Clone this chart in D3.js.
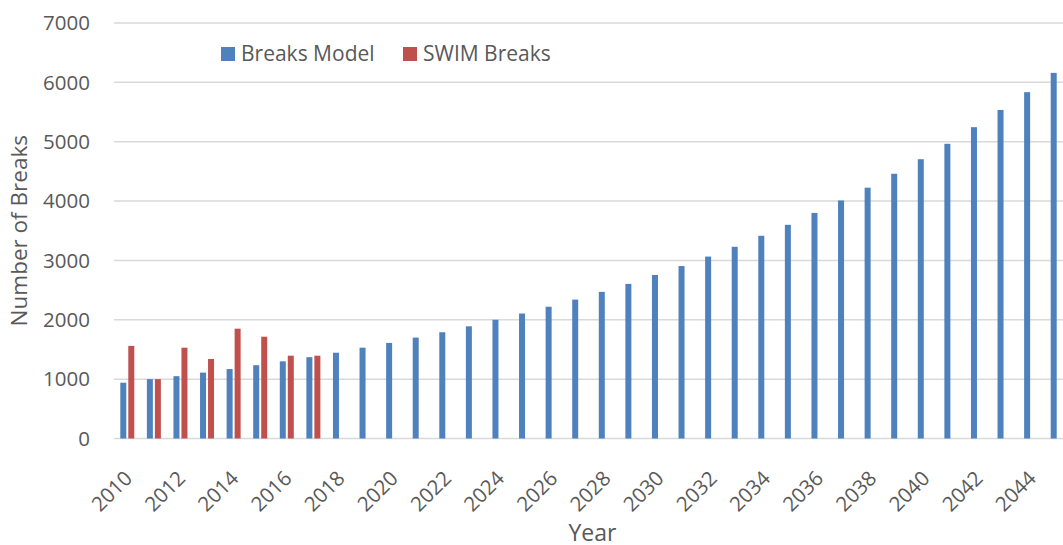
<!DOCTYPE html>
<html>
<head>
<meta charset="utf-8">
<script src="https://cdn.jsdelivr.net/npm/d3@7"></script>
<style>
  body { margin: 0; background: #fff; }
  svg { display: block; font-family: "Open Sans", sans-serif; }
</style>
</head>
<body>
<div id="chart"></div>
<script>
const width = 1063;
const height = 545;

// data
const years = d3.range(2010, 2046);
const breaksModel = [940, 1000, 1050, 1110, 1170, 1235, 1300, 1370, 1445, 1530,
  1610, 1700, 1790, 1890, 2000, 2105, 2220, 2340, 2470, 2605,
  2755, 2905, 3065, 3230, 3415, 3600, 3800, 4010, 4225, 4460,
  4705, 4965, 5245, 5535, 5835, 6160];
const swimYears = [2010, 2011, 2012, 2013, 2014, 2015, 2016, 2017];
const swimBreaks = [1560, 1000, 1530, 1340, 1850, 1715, 1395, 1395];
const yTicks = [0, 1000, 2000, 3000, 4000, 5000, 6000, 7000];
const seriesNames = ["Breaks Model", "SWIM Breaks"];
const colors = ["#4f81bd", "#c0504d"];

const plotLeft = 114, plotRight = 1071, plotTop = 23, plotBottom = 438.5;

const svg = d3.select("#chart").append("svg")
  .attr("width", width)
  .attr("height", height);

const x0 = d3.scaleBand(years, [plotLeft, plotRight]);
const x1 = d3.scaleBand(seriesNames, [x0.bandwidth() / 2 - 7, x0.bandwidth() / 2 + 7])
  .paddingInner(0.25);
const y = d3.scaleLinear([0, 7000], [plotBottom, plotTop]);

// gridlines
svg.append("g")
  .selectAll("line")
  .data(yTicks)
  .join("line")
  .attr("x1", plotLeft)
  .attr("x2", width)
  .attr("y1", d => y(d))
  .attr("y2", d => y(d))
  .attr("stroke", "#d9d9d9")
  .attr("stroke-width", 1.5);

// y tick labels
svg.append("g")
  .selectAll("text")
  .data(yTicks)
  .join("text")
  .attr("x", 90)
  .attr("y", d => y(d))
  .attr("dy", "0.35em")
  .attr("text-anchor", "end")
  .attr("fill", "#595959")
  .style("font-size", "20.5px")
  .text(d => d);

// bars
const rows = [
  years.map((yr, i) => ({ year: yr, value: breaksModel[i], s: 0 })),
  swimYears.map((yr, i) => ({ year: yr, value: swimBreaks[i], s: 1 }))
];

svg.append("g")
  .selectAll("g")
  .data(rows)
  .join("g")
  .attr("fill", (d, i) => colors[i])
  .selectAll("rect")
  .data(d => d)
  .join("rect")
  .attr("x", d => x0(d.year) + x1(seriesNames[d.s]))
  .attr("width", x1.bandwidth())
  .attr("y", d => y(d.value))
  .attr("height", d => y(0) - y(d.value));

// x tick labels, every other year
svg.append("g")
  .selectAll("text")
  .data(years.filter(yr => yr % 2 === 0))
  .join("text")
  .attr("transform", d => `translate(${x0(d) + x0.bandwidth() / 2 - 4},${plotBottom + 31}) rotate(-45)`)
  .attr("text-anchor", "end")
  .attr("dy", "0.7em")
  .attr("fill", "#595959")
  .style("font-size", "20.5px")
  .text(d => d);

// axis titles
svg.append("text")
  .attr("transform", `translate(27,${(plotTop + plotBottom) / 2}) rotate(-90)`)
  .attr("text-anchor", "middle")
  .attr("fill", "#595959")
  .style("font-size", "22.5px")
  .text("Number of Breaks");

svg.append("text")
  .attr("x", (plotLeft + plotRight) / 2)
  .attr("y", 541)
  .attr("text-anchor", "middle")
  .attr("fill", "#595959")
  .style("font-size", "23px")
  .text("Year");

// legend
const legend = svg.append("g")
  .selectAll("g")
  .data(seriesNames)
  .join("g")
  .attr("transform", (d, i) => `translate(${i === 0 ? 221 : 403},47)`);

legend.append("rect")
  .attr("width", 14)
  .attr("height", 14)
  .attr("fill", (d, i) => colors[i]);

legend.append("text")
  .attr("x", 20)
  .attr("y", 7)
  .attr("dy", "0.35em")
  .attr("fill", "#595959")
  .style("font-size", "21px")
  .text(d => d);
</script>
</body>
</html>
